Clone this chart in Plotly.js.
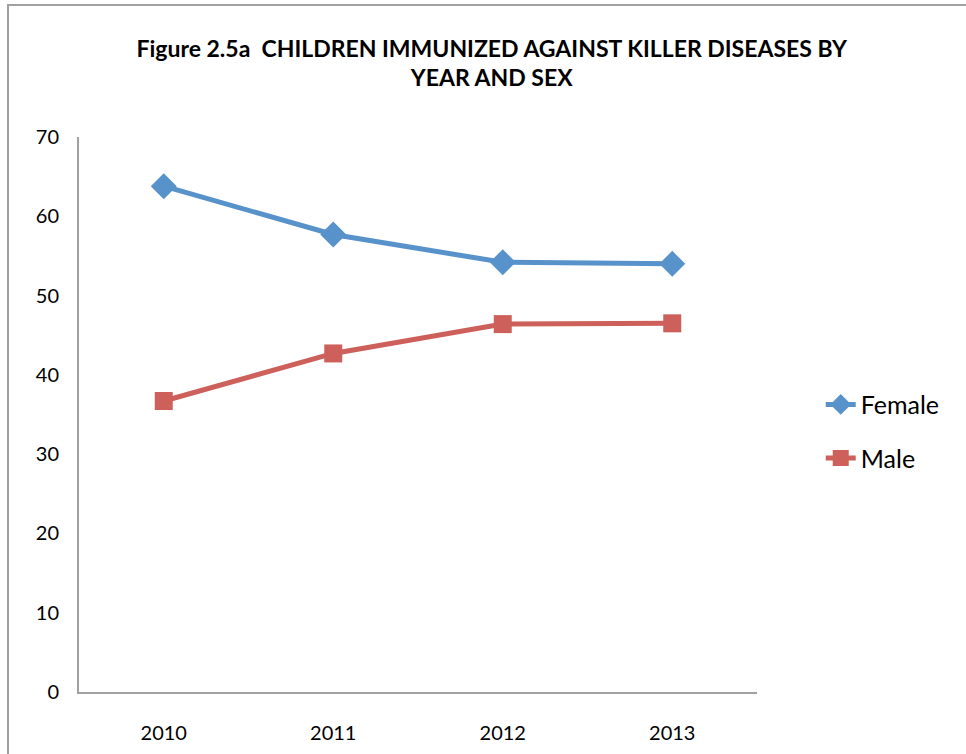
<!DOCTYPE html>
<html>
<head>
<meta charset="utf-8">
<script src="https://cdn.plot.ly/plotly-3.0.1.min.js"></script>
<style>
  html, body { margin: 0; padding: 0; background: #ffffff; overflow: hidden; }
  #frame { position: absolute; left: 7px; top: 4px; width: 980px; height: 780px; border: 2px solid #a0a0a0; box-sizing: border-box; }
  #chart { position: absolute; left: 0; top: 0; width: 966px; height: 754px; }
</style>
</head>
<body>
<div id="frame"></div>
<div id="chart"></div>
<script>
const years = ["2010", "2011", "2012", "2013"];
const female = [63.8, 57.7, 54.2, 54.0];
const male = [36.7, 42.7, 46.4, 46.5];
const yTicks = [0, 10, 20, 30, 40, 50, 60, 70];

const FONT = "Lato, 'Open Sans', sans-serif";

const traces = [
  {
    x: years, y: female, name: "Female", type: "scatter", mode: "lines+markers",
    legendgroup: "f",
    line: { color: "#5892cb", width: 5 },
    marker: { symbol: "diamond", size: 20, color: "#5892cb" }
  },
  {
    x: years, y: male, name: "Male", type: "scatter", mode: "lines+markers",
    legendgroup: "m",
    line: { color: "#cd605b", width: 5 },
    marker: { symbol: "square", size: 18, color: "#cd605b" }
  }
];

const layout = {
  width: 966, height: 754,
  margin: { l: 79, r: 209, t: 137, b: 62 },
  paper_bgcolor: "rgba(0,0,0,0)",
  plot_bgcolor: "rgba(0,0,0,0)",
  font: { family: FONT, color: "#000000" },
  title: {
    text: "<b>Figure 2.5a  CHILDREN IMMUNIZED AGAINST KILLER DISEASES BY<br>YEAR AND SEX</b>",
    font: { family: FONT, size: 23, color: "#000000" },
    x: 0.509, xref: "container", xanchor: "center",
    y: 0.925, yref: "container", yanchor: "top"
  },
  xaxis: {
    type: "category",
    range: [-0.5, 3.5],
    showgrid: false, zeroline: false,
    showline: true, linecolor: "#a0a0a0", linewidth: 2,
    ticks: "outside", ticklen: 22, tickcolor: "rgba(0,0,0,0)",
    tickfont: { family: FONT, size: 20, color: "#000000" },
    fixedrange: true
  },
  yaxis: {
    range: [0, 70],
    tickvals: yTicks,
    showgrid: false, zeroline: false,
    showline: true, linecolor: "#a0a0a0", linewidth: 2,
    ticks: "outside", ticklen: 14, tickcolor: "rgba(0,0,0,0)",
    tickfont: { family: FONT, size: 20, color: "#000000" },
    fixedrange: true
  },
  showlegend: true,
  legend: {
    x: 1.094, xanchor: "left",
    y: 0.47, yanchor: "middle",
    traceorder: "grouped",
    tracegroupgap: 18,
    font: { family: FONT, size: 25, color: "#000000" },
    bgcolor: "rgba(0,0,0,0)"
  }
};

Plotly.newPlot("chart", traces, layout, { displayModeBar: false, staticPlot: true });
</script>
</body>
</html>
